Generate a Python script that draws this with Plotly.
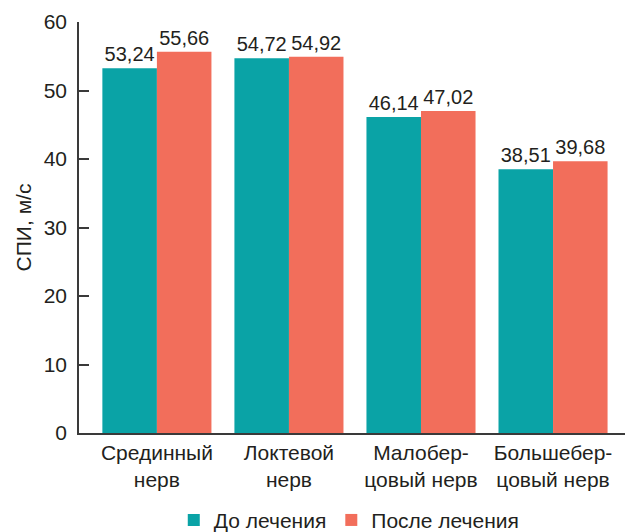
import plotly.graph_objects as go

categories = ["Срединный<br>нерв", "Локтевой<br>нерв", "Малобер-<br>цовый нерв", "Большебер-<br>цовый нерв"]
before = [53.24, 54.72, 46.14, 38.51]
after = [55.66, 54.92, 47.02, 39.68]
series_names = ["До лечения", "После лечения"]
colors = ["#0aa3a6", "#f26e5b"]
y_ticks = [0, 10, 20, 30, 40, 50, 60]

FONT = "Liberation Sans, Arial, sans-serif"
TXT = "#231f20"


def fmt(v):
    return f"{v:.2f}".replace(".", ",")


fig = go.Figure()
for name, vals, col in zip(series_names, [before, after], colors):
    fig.add_trace(go.Bar(
        x=categories, y=vals, name=name,
        marker=dict(color=col, line=dict(width=0)),
        text=[fmt(v) for v in vals], textposition="outside",
        textfont=dict(size=20, color=TXT, family=FONT),
        cliponaxis=False,
    ))

fig.update_layout(
    width=625, height=532,
    margin=dict(l=79, r=0, t=22, b=99, autoexpand=False),
    plot_bgcolor="white", paper_bgcolor="white",
    barmode="group", bargap=0.174, bargroupgap=0,
    font=dict(family=FONT, size=21, color=TXT),
    showlegend=True,
    legend=dict(orientation="h", x=0.495, xanchor="center",
                yref="container", y=0.022, yanchor="middle",
                font=dict(size=21, color=TXT), itemwidth=30, traceorder="normal"),
)
fig.update_xaxes(
    range=[-0.59, 3.545], showline=True, linecolor="#3a3a3a", linewidth=1.5,
    ticks="", showgrid=False, automargin=False,
    tickfont=dict(size=21, color=TXT, family=FONT),
)
fig.update_yaxes(
    range=[0, 60], tickvals=y_ticks, showline=True, linecolor="#3a3a3a", linewidth=1.5,
    ticks="inside", ticklen=10, tickcolor="#3a3a3a", tickwidth=1.5,
    showgrid=False, zeroline=False, ticklabelstandoff=6, automargin=False,
    tickfont=dict(size=21, color=TXT, family=FONT),
    title=dict(text="СПИ, м/с", font=dict(size=21, color=TXT, family=FONT), standoff=6),
)

fig.write_html("out.html")
